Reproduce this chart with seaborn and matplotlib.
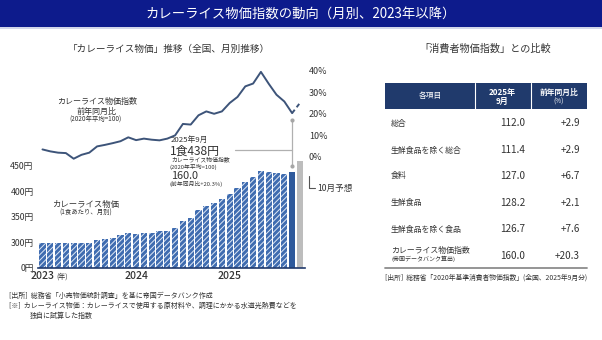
import numpy as np
import pandas as pd
import matplotlib
matplotlib.use("Agg")
import matplotlib.pyplot as plt
import seaborn as sns
from matplotlib.patches import Rectangle
from matplotlib.lines import Line2D

# ---------------- data ----------------
months = list(pd.date_range("2023-01", "2025-09", freq="MS").strftime("%Y-%m"))
price_yen = [295, 294, 296, 299, 298, 299, 298, 304, 307, 308, 315, 319,
             317, 319, 319, 322, 323, 329, 342, 348, 364, 371, 377, 386,
             395, 406, 419, 428, 440, 439, 437, 435, 438]
forecast_label = "2025-10"
forecast_yen = 460
yoy_pct = [3.5, 2.6, 2.0, 1.8, -0.8, 1.0, 2.0, 4.9, 5.6, 6.4, 7.3, 9.1,
           7.8, 8.5, 8.0, 7.7, 8.5, 10.0, 15.3, 15.0, 19.3, 21.1, 20.0, 21.1,
           25.0, 27.8, 32.7, 34.0, 39.4, 33.9, 28.8, 25.7, 20.3]
forecast_yoy = 25.0
year_ticks = ["2023", "2024", "2025"]
yen_ticks = [0, 300, 350, 400, 450]
pct_ticks = [0, 10, 20, 30, 40]

table_items = ["総合", "生鮮食品を除く総合", "食料", "生鮮食品", "生鮮食品を除く食品", "カレーライス物価指数"]
table_values = ["112.0", "111.4", "127.0", "128.2", "126.7", "160.0"]
table_yoy = ["+2.9", "+2.9", "+6.7", "+2.1", "+7.6", "+20.3"]

# ---------------- style ----------------
sns.set_theme(style="white")
plt.rcParams["font.family"] = ["Noto Sans CJK JP", "DejaVu Sans"]
plt.rcParams["hatch.linewidth"] = 0.7
TXT = "#333333"
NAVY_BAND = "#0d1b8c"
NAVY_HEAD = "#203a6c"
BAR_BLUE = "#3f6cb0"
BAR_DARK = "#2f5a9c"
BAR_GREY = "#bdbdbd"
LINE_C = "#3d5479"

W, H = 602, 340
fig = plt.figure(figsize=(W / 100, H / 100), dpi=100)
fig.patch.set_facecolor("white")

def px(x, y):
    return x / W, 1 - y / H

def T(x, y, s, size=6, ha="left", color=TXT, **kw):
    fig.text(*px(x, y), s, fontsize=size, ha=ha, va="center", color=color, **kw)

# header band
fig.patches.append(Rectangle((0, 1 - 27 / H), 1, 27 / H, transform=fig.transFigure,
                             facecolor=NAVY_BAND, edgecolor="none", zorder=0))
fig.add_artist(Line2D([0, 1], [1 - 28.3 / H] * 2, transform=fig.transFigure,
                      color="#c9d0e6", lw=1.2))
T(301, 14, "カレーライス物価指数の動向（月別、2023年以降）", size=9.6, ha="center", color="white")

# ---------------- main chart ----------------
ax_l, ax_r, ax_b, ax_t = 37.8, 304.6, 268, 60
ax = fig.add_axes([ax_l / W, 1 - ax_b / H, (ax_r - ax_l) / W, (ax_b - ax_t) / H])

df = pd.DataFrame({"month": months + [forecast_label],
                   "price": price_yen + [forecast_yen]})
n = len(df)
pal = [BAR_BLUE] * (n - 2) + [BAR_DARK, BAR_GREY]
sns.barplot(data=df, x="month", y="price", hue="month", palette=pal, legend=False,
            width=0.8, errorbar=None, ax=ax, saturation=1)
for p in ax.patches:
    i = int(round(p.get_x() + p.get_width() / 2))
    if i < n - 2:
        p.set_hatch("//////")
        p.set_edgecolor("#dfe8f5")
        p.set_linewidth(0)
    else:
        p.set_linewidth(0)

def fwd(v):
    v = np.asarray(v, dtype=float)
    return np.where(v < 300, v / 6.0, v - 250.0)

def inv(u):
    u = np.asarray(u, dtype=float)
    return np.where(u < 50, u * 6.0, u + 250.0)

ax.set_yscale("function", functions=(fwd, inv))
ax.set_ylim(0, 657.8)
ax.set_xlim(-0.6, n - 0.4)
ax.set_yticks(yen_ticks)
ax.set_yticklabels([f"{v}円" for v in yen_ticks], fontsize=6.3, color=TXT)
ax.set_xticks([0, 12, 24])
ax.set_xticklabels(year_ticks, fontsize=7.5, color=TXT, fontweight="medium")
ax.tick_params(axis="both", length=0, pad=3)
ax.tick_params(axis="x", pad=2)
ax.set_xlabel("")
ax.set_ylabel("")
for s in ["left", "right", "top"]:
    ax.spines[s].set_visible(False)
ax.spines["bottom"].set_color("#203a6c")
ax.spines["bottom"].set_linewidth(1.2)
ax.patch.set_alpha(0)

# line on twin axis
ax2 = ax.twinx()
idx = list(range(len(yoy_pct)))
sns.lineplot(x=idx, y=yoy_pct, ax=ax2, color=LINE_C, lw=1.4)
sns.lineplot(x=[idx[-1], idx[-1] + 1], y=[yoy_pct[-1], forecast_yoy], ax=ax2,
             color=LINE_C, lw=1.4, linestyle=(0, (2.2, 1.6)))
ax2.set_ylim(-51.4, 44.9)
ax2.set_yticks(pct_ticks)
ax2.set_yticklabels([f"{v}%" for v in pct_ticks], fontsize=6.5, color=TXT)
ax2.tick_params(axis="y", length=0, pad=3)
for s in ax2.spines.values():
    s.set_visible(False)
ax2.set_ylabel("")
ax2.set_xlim(ax.get_xlim())

# leader lines / dots for September 2025
last = idx[-1]
ax2.plot([last, last], [yoy_pct[-1] - 3.3, -4.0], color="#b0b0b0", lw=0.9, zorder=1)
ax2.plot([24.7, last], [3.4, 3.4], color="#b0b0b0", lw=0.9, zorder=1)
ax2.scatter([last, last], [yoy_pct[-1] - 3.3, -4.0], s=9, color="#a6a6a6", zorder=3, linewidths=0)

# ---------------- texts left ----------------
T(169, 49, "「カレーライス物価」推移（全国、月別推移）", size=6.9, ha="center")
T(97, 101, "カレーライス物価指数", size=5.8, ha="center")
T(97, 111, "前年同月比", size=5.8, ha="center")
T(96, 120, "(2020年平均=100)", size=4.6, ha="center")
T(86, 204, "カレーライス物価", size=6.0, ha="center")
T(86, 213, "(1食あたり、月別)", size=4.6, ha="center")
T(56, 277, "(年)", size=5.0)

T(171, 140, "2025年9月", size=5.6)
T(170, 151, "1食438円", size=8.6)
T(171, 159.8, "カレーライス物価指数", size=4.2)
T(170, 166.5, "(2020年平均=100)", size=4.2)
T(171, 175.5, "160.0", size=7.8)
T(170, 184, "(前年同月比+20.3%)", size=4.2)

# 10月予想 bracket
fig.add_artist(Line2D([309 / W, 309 / W, 315 / W], [1 - 176 / H, 1 - 188 / H, 1 - 188 / H],
                      transform=fig.transFigure, color="#555555", lw=0.8))
T(317, 188, "10月予想", size=6.2)

# notes
T(9, 296, "[出所]  総務省「小売物価統計調査」を基に帝国データバンク作成", size=5.0)
T(9, 306, "[※]  カレーライス物価：カレーライスで使用する原材料や、調理にかかる水道光熱費などを", size=5.0)
T(30, 315.5, "独自に試算した指数", size=5.0)

# ---------------- table right ----------------
T(485, 49, "「消費者物価指数」との比較", size=7.3, ha="center")
fig.patches.append(Rectangle(px(385, 108.5), 202 / W, 25.5 / H, transform=fig.transFigure,
                             facecolor=NAVY_HEAD, edgecolor="none"))
for xd in (475, 531):
    fig.add_artist(Line2D([xd / W] * 2, [1 - 83 / H, 1 - 108.5 / H], transform=fig.transFigure,
                          color="white", lw=0.8))
T(430, 96, "各項目", size=5.6, ha="center", color="white")
T(502, 92.5, "2025年", size=5.8, ha="center", color="white", fontweight="bold")
T(502, 101.5, "9月", size=5.8, ha="center", color="white", fontweight="bold")
T(559, 92.5, "前年同月比", size=5.6, ha="center", color="white", fontweight="bold")
T(559, 101.5, "(%)", size=4.6, ha="center", color="white")

row_y = [123.5, 150, 175.5, 202.5, 229, 256]
for k, (item, val, yy) in enumerate(zip(table_items, table_values, table_yoy)):
    y = row_y[k]
    if k == len(table_items) - 1:
        T(391, 250.5, item, size=5.7)
        T(391, 259, "(帝国データバンク算出)", size=4.3)
    else:
        T(391, y, item, size=5.7)
    T(525.5, y, val, size=7.2, ha="right")
    T(580, y, yy, size=7.2, ha="right")

fig.add_artist(Line2D([385 / W, 587 / W], [1 - 267.5 / H] * 2, transform=fig.transFigure,
                      color="#8c8c8c", lw=1.3))
T(385, 278, "[出所]  総務省「2020年基準消費者物価指数」(全国、2025年9月分)", size=4.9)

fig.savefig("out.png", dpi=100, facecolor="white")
